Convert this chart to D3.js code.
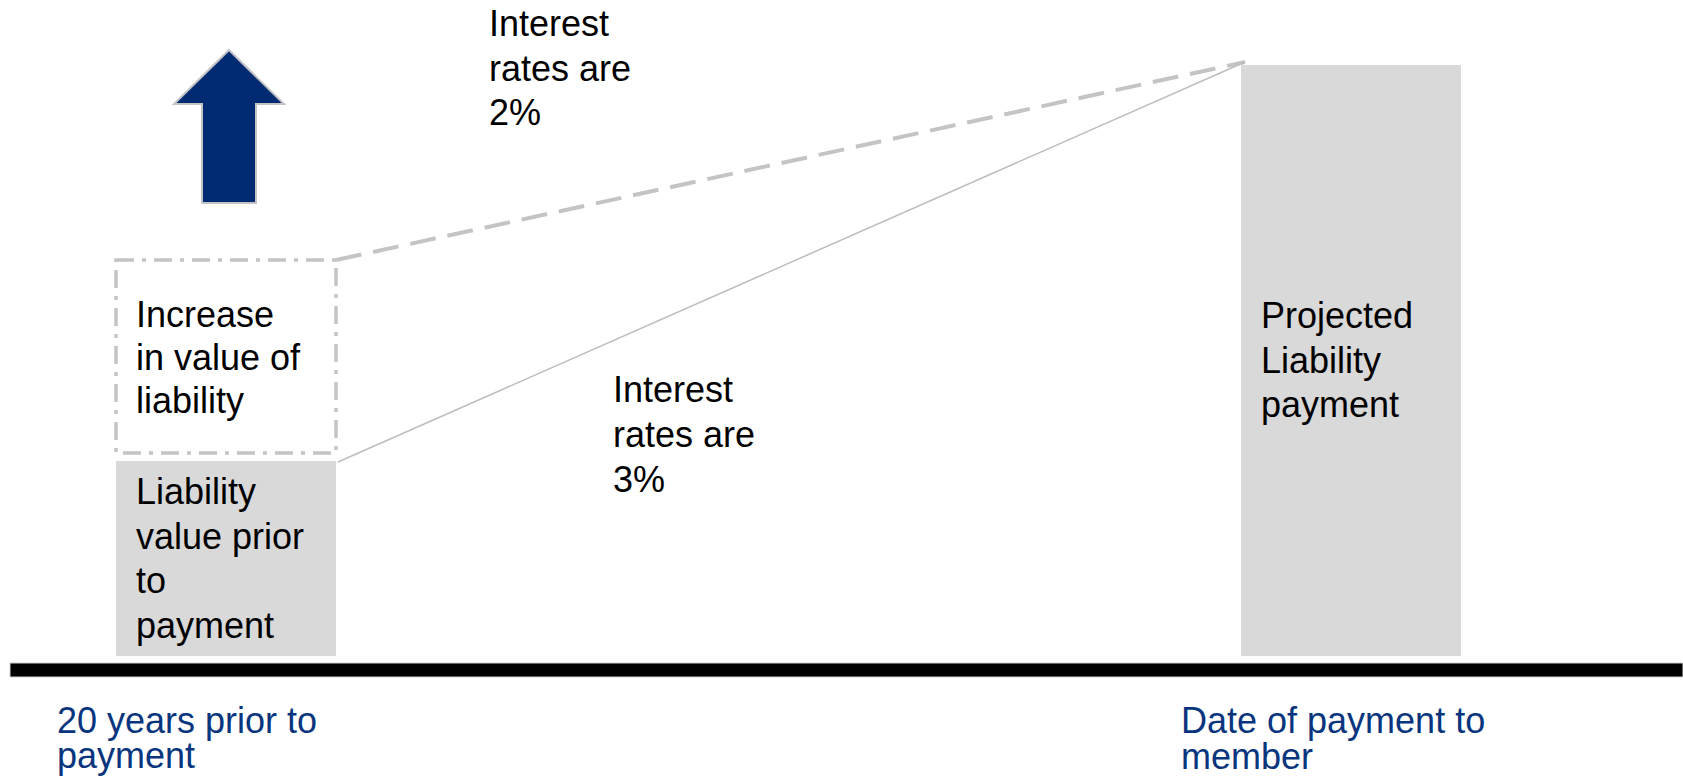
<!DOCTYPE html>
<html>
<head>
<meta charset="utf-8">
<script src="https://cdn.jsdelivr.net/npm/d3@7"></script>
<style>
  body { margin: 0; background: #fff; }
  text { font-family: "Liberation Sans", Arial, sans-serif; }
</style>
</head>
<body>
<div class="chart"></div>
<script>
var svgWidth = 1683;
var svgHeight = 779;

// time points (years before payment) and their labels
var years = [-20, 0];
var timeLabels = [["20 years prior to", "payment"], ["Date of payment to", "member"]];

// liability values (projected payment = 100)
var priorValue = [33];
var increasedValue = [67];
var projectedValue = [100];

var barLabels = [
  ["Liability", "value prior", "to", "payment"],
  ["Projected", "Liability", "payment"]
];
var increaseLabel = ["Increase", "in value of", "liability"];
var rateLabels = [["Interest", "rates are", "2%"], ["Interest", "rates are", "3%"]];

var barWidth = 220;

var svg = d3.select(".chart")
  .append("svg")
  .attr("width", svgWidth)
  .attr("height", svgHeight);

var xScale = d3.scaleLinear()
  .domain([-20, 0])
  .range([116, 1241]);

var yScale = d3.scaleLinear()
  .domain([0, 100])
  .range([656, 65]);

// helper for multi-line text
function multiline(x, y, lines, step, color) {
  var t = svg.append("text")
    .attr("x", x)
    .attr("y", y)
    .attr("font-size", 36)
    .attr("fill", color || "#000");
  lines.forEach(function(l, i) {
    t.append("tspan")
      .attr("x", x)
      .attr("dy", i === 0 ? 0 : step)
      .text(l);
  });
}

// bars
var barData = [
  {year: years[0], value: priorValue[0]},
  {year: years[1], value: projectedValue[0]}
];
svg.selectAll("rect.bar")
  .data(barData)
  .enter()
  .append("rect")
  .attr("class", "bar")
  .attr("x", d => xScale(d.year))
  .attr("y", d => yScale(d.value))
  .attr("width", barWidth)
  .attr("height", d => yScale(0) - yScale(d.value))
  .attr("fill", "#d9d9d9");

// dashed box for the increase in value
svg.append("rect")
  .attr("x", xScale(years[0]))
  .attr("y", yScale(increasedValue[0]))
  .attr("width", barWidth)
  .attr("height", yScale(priorValue[0]) - yScale(increasedValue[0]) - 8)
  .attr("fill", "none")
  .attr("stroke", "#c4c4c4")
  .attr("stroke-width", 3.5)
  .attr("stroke-dasharray", "18,8,4,8");

// lines to projected payment
var endX = xScale(years[1]) + 4;
var endY = yScale(projectedValue[0]) - 3;

svg.append("line")
  .attr("x1", xScale(years[0]) + barWidth)
  .attr("y1", yScale(increasedValue[0]))
  .attr("x2", endX)
  .attr("y2", endY)
  .attr("stroke", "#c4c4c4")
  .attr("stroke-width", 4)
  .attr("stroke-dasharray", "26,12");

svg.append("line")
  .attr("x1", xScale(years[0]) + barWidth + 2)
  .attr("y1", yScale(priorValue[0]) + 1)
  .attr("x2", endX)
  .attr("y2", endY)
  .attr("stroke", "#bdbdbd")
  .attr("stroke-width", 1.5);

// up arrow
svg.append("polygon")
  .attr("points", "229,50 284,104 256,104 256,203 202,203 202,104 174,104")
  .attr("fill", "#002b73")
  .attr("stroke", "#c4c4c4")
  .attr("stroke-width", 2);

// axis baseline
svg.append("rect")
  .attr("x", 10)
  .attr("y", 663)
  .attr("width", svgWidth - 10)
  .attr("height", 14)
  .attr("fill", "#000")
  .attr("stroke", "#d0d0d0")
  .attr("stroke-width", 1);

// text
multiline(xScale(years[0]) + 20, 504, barLabels[0], 44.7);
multiline(xScale(years[1]) + 20, 328, barLabels[1], 44.7);
multiline(xScale(years[0]) + 20, 327, increaseLabel, 43);
multiline(489, 36, rateLabels[0], 44.5);
multiline(613, 402, rateLabels[1], 45);
multiline(57, 733, timeLabels[0], 35, "#08357d");
multiline(1181, 733, timeLabels[1], 36, "#08357d");
</script>
</body>
</html>
